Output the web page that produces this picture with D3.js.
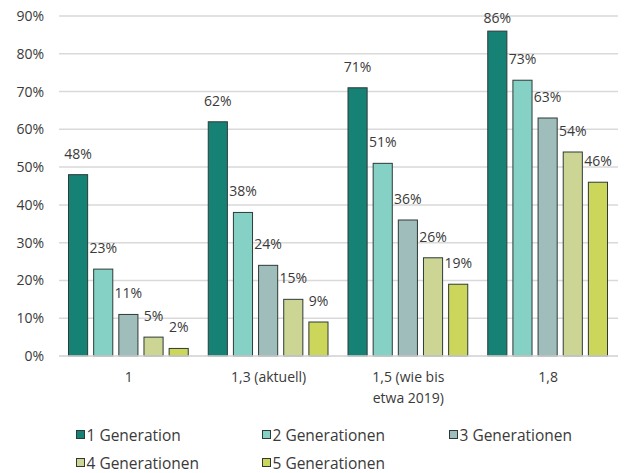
<!DOCTYPE html>
<html>
<head>
<meta charset="utf-8">
<script src="https://cdn.jsdelivr.net/npm/d3@7/dist/d3.min.js"></script>
<style>
  html, body { margin: 0; padding: 0; background: #fff; }
  svg { display: block; font-family: "Open Sans", Lato, sans-serif; }
</style>
</head>
<body>
<svg id="chart" width="629" height="473"></svg>
<script>
// Scenario categories (two-line labels split on \n)
const categories = ["1", "1,3 (aktuell)", "1,5 (wie bis\netwa 2019)", "1,8"];
const seriesNames = ["1 Generation", "2 Generationen", "3 Generationen", "4 Generationen", "5 Generationen"];
// Values in percent, one array per series, in category order
const gen1 = [48, 62, 71, 86];
const gen2 = [23, 38, 51, 73];
const gen3 = [11, 24, 36, 63];
const gen4 = [5, 15, 26, 54];
const gen5 = [2, 9, 19, 46];
const yTicks = [0, 10, 20, 30, 40, 50, 60, 70, 80, 90];
const colors = ["#168276", "#86D1C5", "#9FBDBA", "#CDD594", "#CCD65A"];

const series = [gen1, gen2, gen3, gen4, gen5];

const svg = d3.select("#chart");
const plotLeft = 59, plotRight = 618, plotTop = 16, plotBottom = 356;
const textColor = "#3a3a3a";
const fontSize = 14;
const legendFontSize = 15.5;

const x0 = d3.scaleBand().domain(categories).range([plotLeft, plotRight]).paddingInner(0).paddingOuter(0);
const x1 = d3.scaleBand().domain(d3.range(seriesNames.length))
  .range([9, x0.bandwidth() - 10]).paddingInner(0.2).paddingOuter(0);
const y = d3.scaleLinear().domain([0, 90]).range([plotBottom, plotTop]);

// Gridlines
svg.append("g").selectAll("line").data(yTicks).join("line")
  .attr("x1", plotLeft).attr("x2", plotRight)
  .attr("y1", d => y(d)).attr("y2", d => y(d))
  .attr("stroke", "#d9d9d9").attr("stroke-width", 1.5);

// Y axis labels
const yAxis = d3.axisLeft(y).tickValues(yTicks).tickFormat(d => d + "%").tickSize(0).tickPadding(0);
const ya = svg.append("g").attr("transform", `translate(44,0)`).call(yAxis);
ya.select(".domain").remove();
ya.selectAll("text").attr("font-size", fontSize).attr("fill", textColor)
  .attr("font-family", "'Open Sans', Lato, sans-serif");

// Bars with value labels above (kept inside the top of the plot)
const groups = svg.append("g").selectAll("g").data(categories).join("g")
  .attr("transform", d => `translate(${x0(d)},0)`);

groups.each(function(cat, ci) {
  const g = d3.select(this);
  series.forEach((vals, si) => {
    const v = vals[ci];
    g.append("rect")
      .attr("x", x1(si) + 0.5)
      .attr("y", y(v))
      .attr("width", x1.bandwidth() - 1)
      .attr("height", y(0) - y(v))
      .attr("fill", colors[si])
      .attr("stroke", "#2e3a38")
      .attr("stroke-width", 1);
    g.append("text")
      .attr("x", x1(si) + x1.bandwidth() / 2)
      .attr("y", Math.max(y(v) - 16, 23))
      .attr("text-anchor", "middle")
      .attr("font-size", fontSize)
      .attr("fill", textColor)
      .text(v + "%");
  });
});

// Category labels
const xa = svg.append("g");
categories.forEach(c => {
  const lines = c.split("\n");
  const cx = x0(c) + x0.bandwidth() / 2;
  const t = xa.append("text")
    .attr("x", cx)
    .attr("y", 382)
    .attr("text-anchor", "middle")
    .attr("font-size", fontSize)
    .attr("fill", textColor);
  lines.forEach((ln, i) => {
    t.append("tspan").attr("x", cx).attr("dy", i === 0 ? 0 : 21).text(ln);
  });
});

// X axis line
svg.append("line").attr("x1", plotLeft).attr("x2", plotRight)
  .attr("y1", plotBottom).attr("y2", plotBottom)
  .attr("stroke", "#d9d9d9").attr("stroke-width", 1.5);

// Legend
const legendPos = [[76, 435], [262, 435], [449, 435], [76, 463], [262, 463]];
const lg = svg.append("g").selectAll("g").data(seriesNames).join("g")
  .attr("transform", (d, i) => `translate(${legendPos[i][0]},${legendPos[i][1]})`);
lg.append("rect").attr("x", 0.5).attr("y", -4.5).attr("width", 8).attr("height", 8)
  .attr("fill", (d, i) => colors[i]).attr("stroke", "#2e3a38").attr("stroke-width", 1);
lg.append("text").attr("x", 10.5).attr("y", 5.5).attr("font-size", legendFontSize)
  .attr("fill", textColor).text(d => d);
</script>
</body>
</html>
